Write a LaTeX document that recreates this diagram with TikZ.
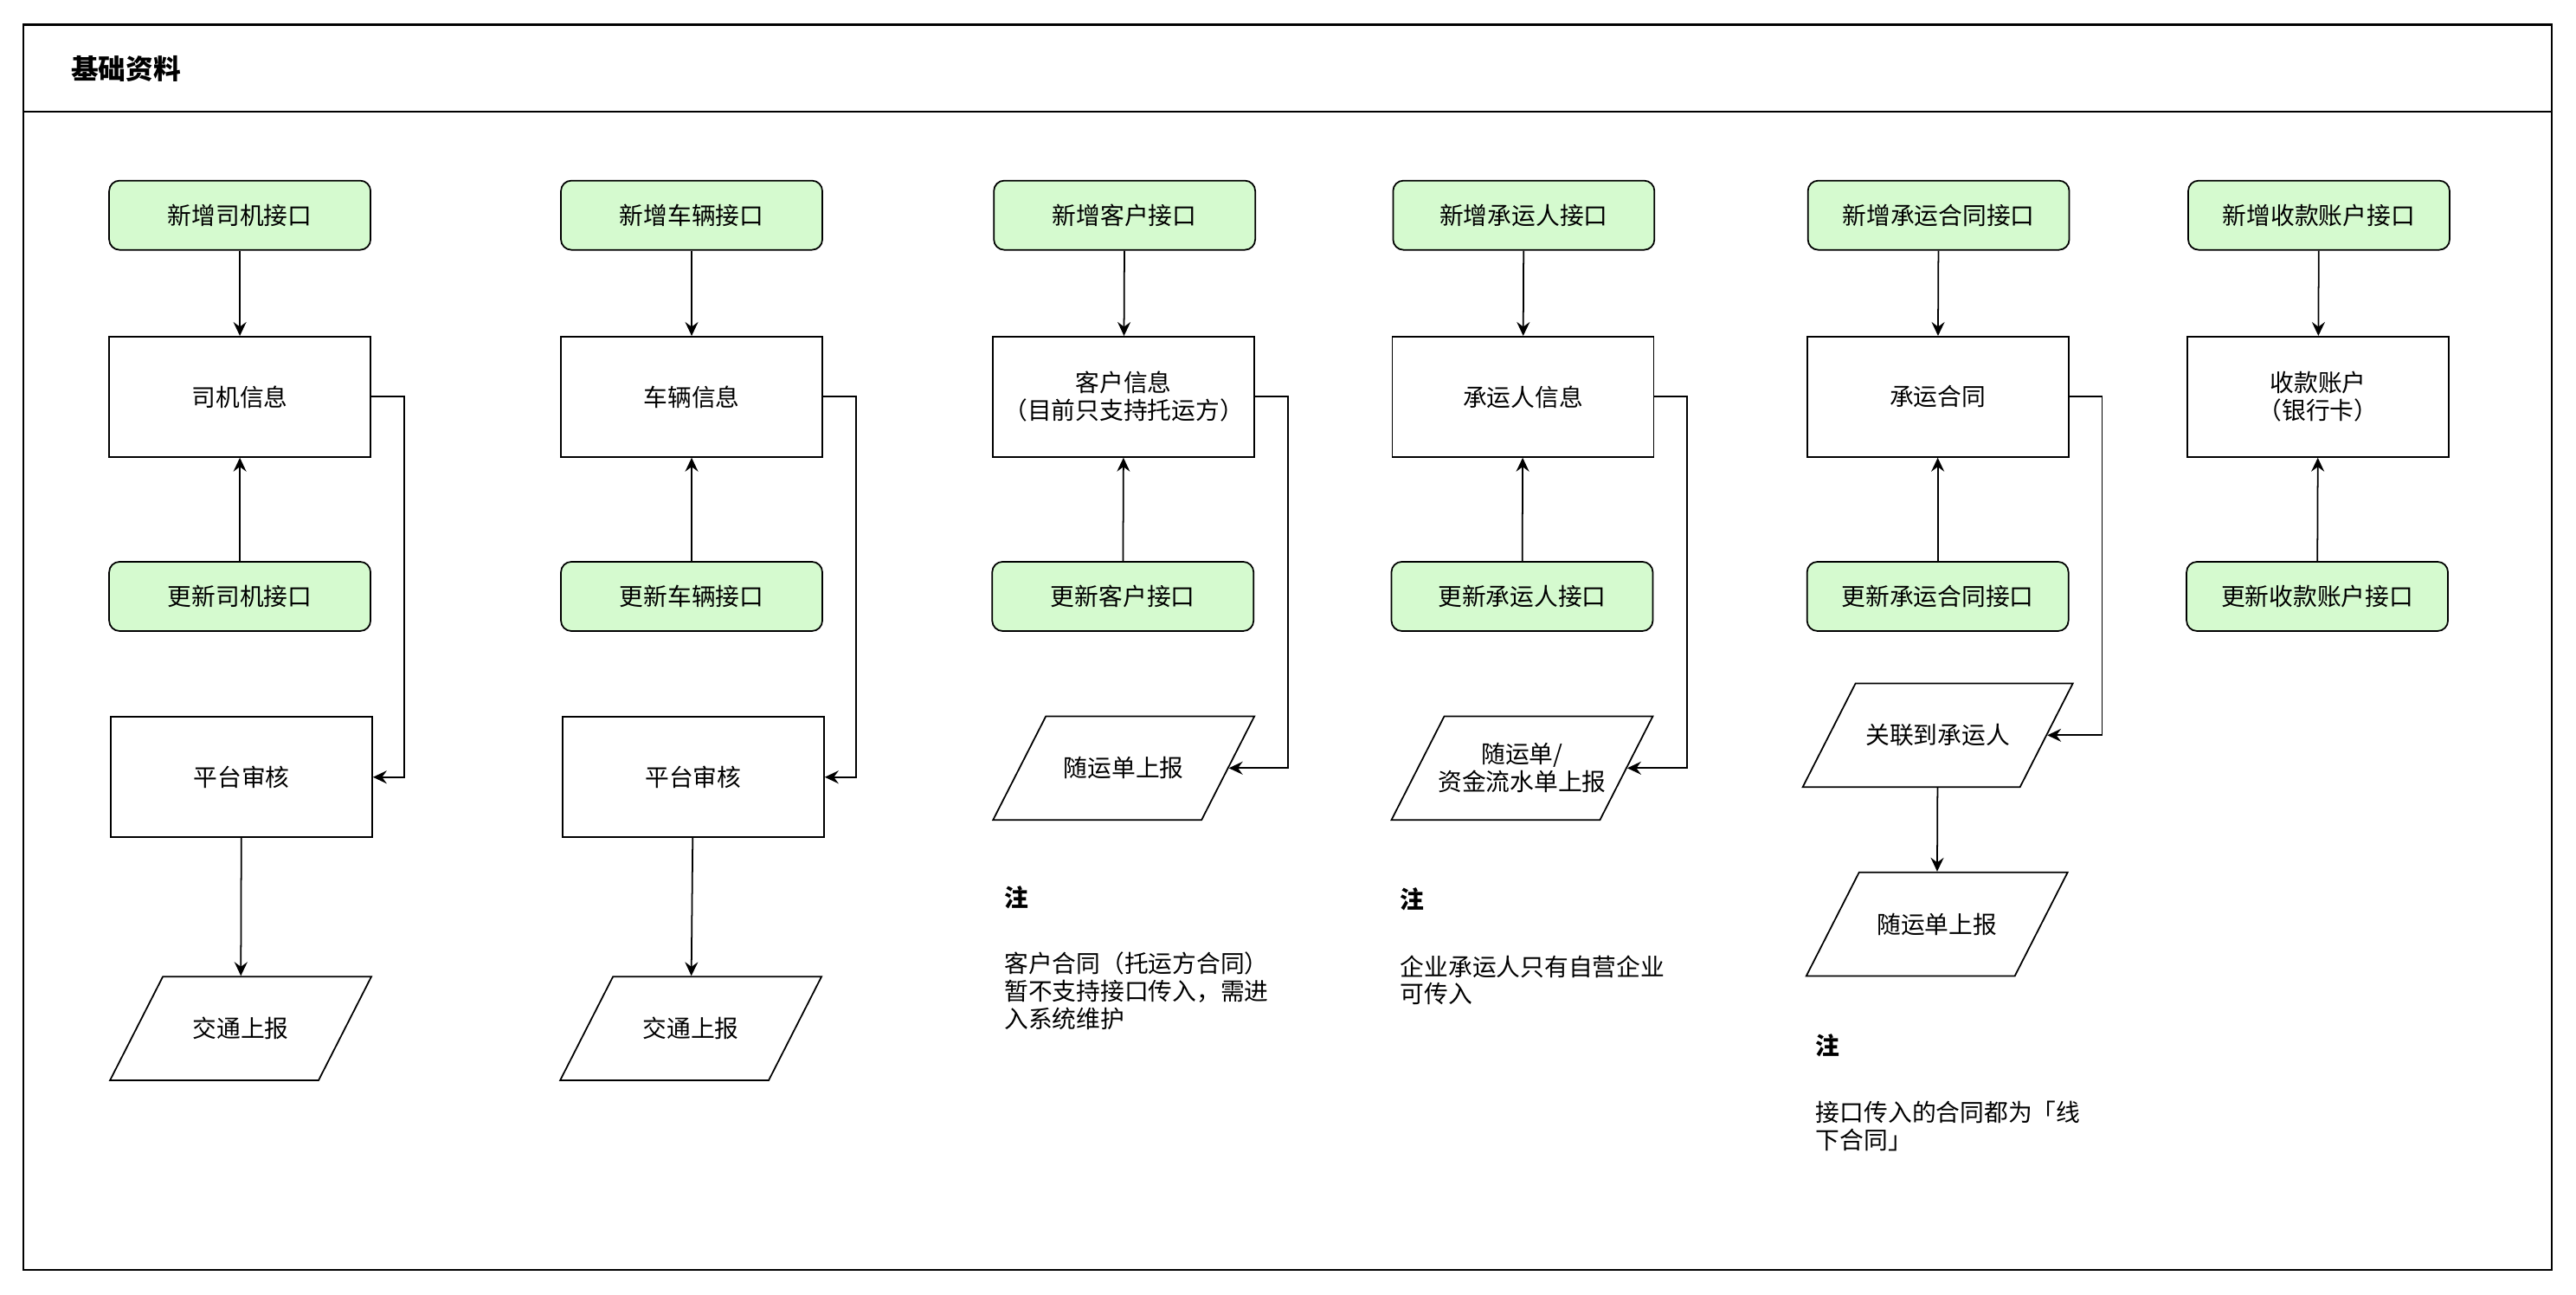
\documentclass[tikz,border=0pt]{standalone}
\usepackage{fontspec}
\setmainfont{Noto Sans CJK SC}
\usetikzlibrary{shapes.geometric,arrows.meta}

\definecolor{apigreen}{RGB}{213,250,207}
\newcommand{\bodyfont}{\fontsize{7.9}{9.1}\selectfont}
\newcommand{\titlefont}{\fontsize{9}{11}\selectfont\bfseries}

\tikzset{
  api/.style={draw, line width=0.5pt, fill=apigreen, rounded corners=1.2mm,
    minimum width=3.02cm, minimum height=0.80cm, font=\bodyfont},
  infobox/.style={draw, line width=0.5pt, minimum width=3.02cm,
    minimum height=1.39cm, align=center, font=\bodyfont},
  report/.style={draw, line width=0.5pt, trapezium, trapezium left angle=63,
    trapezium right angle=117, trapezium stretches body, minimum width=3.02cm,
    inner ysep=0pt, text height=20.05pt, text depth=14.05pt,
    align=center, font=\bodyfont},
  tworows/.style={text height=24.6pt, text depth=9.5pt, inner xsep=-3pt},
  note/.style={anchor=north west, align=left, font=\bodyfont, inner sep=0pt},
  link/.style={line width=0.5pt, -{Stealth[length=1.6mm,width=1.5mm,inset=0.55mm]}},
}

\begin{document}
\begin{tikzpicture}[x=0.01898cm, y=-0.01898cm]
\useasboundingbox (0,0) rectangle (1568,788);

% frame
\draw[line width=0.6pt] (14,15) rectangle (1553,773);
\draw[line width=0.6pt] (14,68) -- (1553,68);
\node[anchor=west, inner sep=0pt, font=\titlefont] (title) at (43,42) {基础资料};

% driver
\node[api] (addDriver) at (146,131) {新增司机接口};
\node[infobox] (driverInfo) at (146,241.5) {司机信息};
\node[api] (updDriver) at (146,363) {更新司机接口};
\node[infobox] (driverAudit) at (147,473) {平台审核};
\node[report] (driverReport) at (146.5,626) {交通上报};

% vehicle
\node[api] (addVehicle) at (421,131) {新增车辆接口};
\node[infobox] (vehicleInfo) at (421,241.5) {车辆信息};
\node[api] (updVehicle) at (421,363) {更新车辆接口};
\node[infobox] (vehicleAudit) at (422,473) {平台审核};
\node[report] (vehicleReport) at (420.5,626) {交通上报};

% customer
\node[api] (addCustomer) at (684.5,131) {新增客户接口};
\node[infobox] (customerInfo) at (684,241.5) {客户信息\\（目前只支持托运方）};
\node[api] (updCustomer) at (683.5,363) {更新客户接口};
\node[report] (customerReport) at (684,467.5) {随运单上报};
\node[note, font=\bodyfont\bfseries] (customerNoteHead) at (611,539) {注};
\node[note] (customerNote) at (611,579) {客户合同（托运方合同）\\暂不支持接口传入，需进\\入系统维护};

% carrier
\node[api] (addCarrier) at (927.5,131) {新增承运人接口};
\node[infobox] (carrierInfo) at (927,241.5) {承运人信息};
\node[api] (updCarrier) at (926.5,363) {更新承运人接口};
\node[report, tworows] (carrierReport) at (926.5,467.5) {随运单/\\资金流水单上报};
\node[note, font=\bodyfont\bfseries] (carrierNoteHead) at (852,540) {注};
\node[note] (carrierNote) at (852,581) {企业承运人只有自营企业\\可传入};

% contract
\node[api] (addContract) at (1180,131) {新增承运合同接口};
\node[infobox] (contractInfo) at (1179.5,241.5) {承运合同};
\node[api] (updContract) at (1179.5,363) {更新承运合同接口};
\node[report] (contractLink) at (1179.5,447.5) {关联到承运人};
\node[report] (contractReport) at (1179,562.5) {随运单上报};
\node[note, font=\bodyfont\bfseries] (contractNoteHead) at (1105,629) {注};
\node[note] (contractNote) at (1105,670) {接口传入的合同都为「线\\下合同」};

% account
\node[api] (addAccount) at (1411.5,131) {新增收款账户接口};
\node[infobox] (accountInfo) at (1411,241.5) {收款账户\\（银行卡）};
\node[api] (updAccount) at (1410.5,363) {更新收款账户接口};

% links
\foreach \a/\b in {addDriver/driverInfo, updDriver/driverInfo,
  addVehicle/vehicleInfo, updVehicle/vehicleInfo,
  addCustomer/customerInfo, updCustomer/customerInfo,
  addCarrier/carrierInfo, updCarrier/carrierInfo,
  addContract/contractInfo, updContract/contractInfo,
  addAccount/accountInfo, updAccount/accountInfo}
  \draw[link] (\a) -- (\b);
\draw[link] (driverAudit) -- (driverReport);
\draw[link] (vehicleAudit) -- (vehicleReport);
\draw[link] (contractLink) -- (contractReport);

\draw[link] (driverInfo.east) -- ++(20,0) |- (driverAudit.east);
\draw[link] (vehicleInfo.east) -- ++(20,0) |- (vehicleAudit.east);
\draw[link] (customerInfo.east) -- ++(20,0) |- (customerReport.east);
\draw[link] (carrierInfo.east) -- ++(20,0) |- (carrierReport.east);
\draw[link] (contractInfo.east) -- ++(20,0) |- (contractLink.east);
\end{tikzpicture}
\end{document}
